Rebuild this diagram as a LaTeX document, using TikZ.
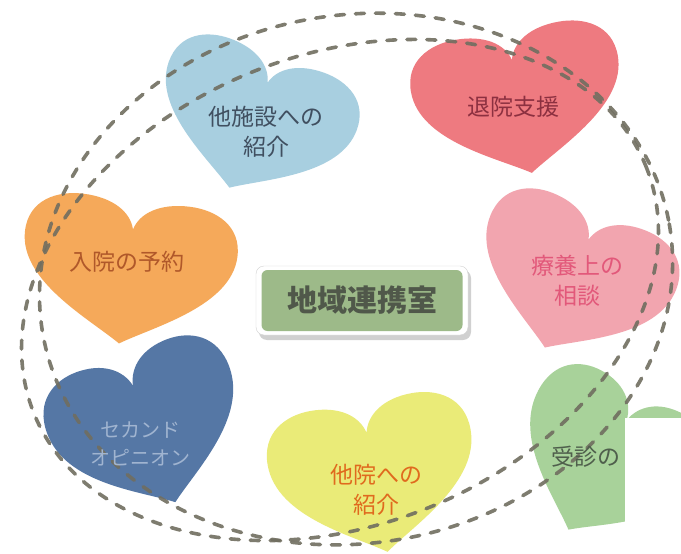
\documentclass[tikz,border=0pt]{standalone}
\usepackage{fontspec}
\setmainfont{Noto Sans CJK JP}
\definecolor{lblue}{RGB}{168,207,224}
\definecolor{hred}{RGB}{238,122,128}
\definecolor{hpink}{RGB}{242,165,175}
\definecolor{hgreen}{RGB}{168,210,154}
\definecolor{hyellow}{RGB}{234,235,120}
\definecolor{hblue}{RGB}{85,119,165}
\definecolor{horange}{RGB}{245,169,90}
\definecolor{lbluetext}{RGB}{64,79,96}
\definecolor{redtext}{RGB}{140,48,64}
\definecolor{pinktext}{RGB}{226,88,122}
\definecolor{greentext}{RGB}{79,95,76}
\definecolor{yellowtext}{RGB}{224,106,30}
\definecolor{bluetext}{RGB}{160,180,208}
\definecolor{orangetext}{RGB}{176,88,42}
\definecolor{boxgreen}{RGB}{157,186,137}
\definecolor{boxtext}{RGB}{80,88,74}
\definecolor{ringcol}{RGB}{112,110,96}
\tikzset{
  heart/.pic={\path[pic actions] (0,-1) .. controls (-0.3,-0.72) and (-1,-0.32) .. (-1,0.36) .. controls (-1,0.78) and (-0.75,0.95) .. (-0.5,0.95) .. controls (-0.22,0.95) and (-0.04,0.78) .. (0,0.55) .. controls (0.04,0.78) and (0.22,0.95) .. (0.5,0.95) .. controls (0.75,0.95) and (1,0.78) .. (1,0.36) .. controls (1,-0.32) and (0.3,-0.72) .. (0,-1) -- cycle;},
  hearttext/.style={font=\fontsize{23}{30}\selectfont, align=center, inner sep=0pt},
  ring/.style={draw=ringcol, line width=3.6pt, dash pattern=on 9pt off 11pt, line cap=round, opacity=0.9},
}
\begin{document}
\begin{tikzpicture}[x=1pt,y=-1pt]
\useasboundingbox (0,0) rectangle (681,554);
\fill[white] (0,0) rectangle (681,554);
% hearts
\pic[fill=lblue, rotate=-20, xscale=100, yscale=-72] (h1) at (254,120) {heart};
\pic[fill=hred, rotate=10, xscale=105, yscale=-74] (h2) at (519,100) {heart};
\pic[fill=hpink, rotate=-22, xscale=100, yscale=-75] (h3) at (573,278) {heart};
\pic[fill=hgreen, rotate=-28, xscale=92, yscale=-80] (h4) at (606,459) {heart};
\pic[fill=hyellow, rotate=10, xscale=103, yscale=-78] (h5) at (374,475) {heart};
\pic[fill=hblue, rotate=20, xscale=97, yscale=-80] (h6) at (148,427) {heart};
\pic[fill=horange, rotate=-7, xscale=107, yscale=-74] (h7) at (128,270) {heart};
% dashed rings
\coordinate (pc) at (340,290);
\coordinate (qc) at (356,279);
\draw[ring, rotate around={22:(pc)}] (pc) ellipse [x radius=330, y radius=235];
\draw[ring, rotate around={10:(qc)}] (qc) ellipse [x radius=318, y radius=264];
% centre box
\fill[gray!60, rounded corners=8pt, opacity=0.6] (259,270) rectangle (471,340);
\draw[gray!35, fill=white, rounded corners=8pt] (256,266) rectangle (468,335);
\node[fill=boxgreen, rounded corners=6pt, minimum width=201pt, minimum height=61pt, inner sep=0pt, font=\fontsize{30}{30}\selectfont\bfseries, text=boxtext] (center) at (362,300.5) {地域連携室};
% texts
\node[hearttext, text=lbluetext] (t1) at (266,132) {他施設への\\紹介};
\node[hearttext, text=redtext] (t2) at (513,107) {退院支援};
\node[hearttext, text=pinktext] (t3) at (577,281) {療養上の\\相談};
\node[hearttext, text=greentext, anchor=west] (t4) at (551,457) {受診の};
\node[hearttext, text=yellowtext] (t5) at (376,490) {他院への\\紹介};
\node[hearttext, font=\fontsize{20}{28}\selectfont, text=bluetext] (t6) at (140,444) {セカンド\\オピニオン};
\node[hearttext, text=orangetext] (t7) at (127,262) {入院の予約};
% white patch
\fill[white] (625,418) rectangle (681,554);
\end{tikzpicture}
\end{document}
